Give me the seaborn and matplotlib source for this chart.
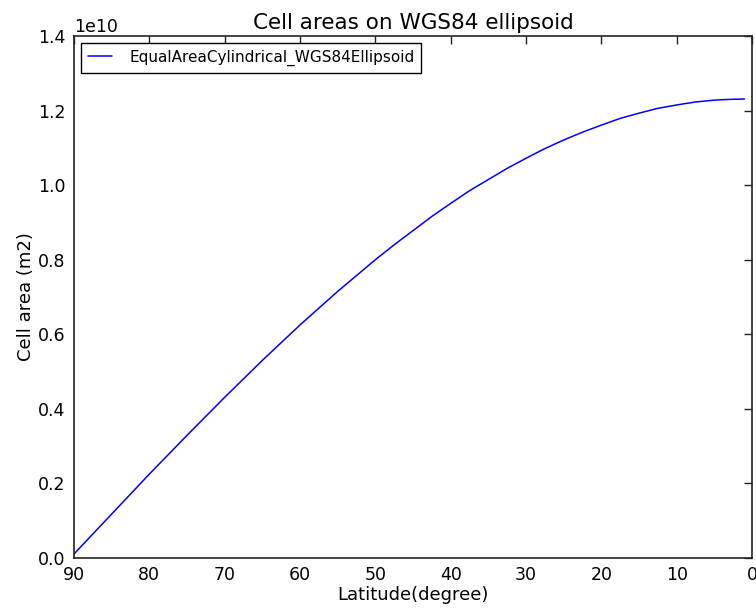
import matplotlib
matplotlib.use("Agg")
import matplotlib.pyplot as plt
import seaborn as sns
import pandas as pd

# Latitude (upper edge of 1-degree cells) and cell areas (in m2)
latitude = [90, 85, 80, 75, 70, 65, 60, 55, 50, 47.5, 45, 42.5, 40, 37.5, 35, 32.5,
            30, 27.5, 25, 22.5, 20, 17.5, 15, 12.5, 10, 7.5, 5, 3, 1]
cell_area = [0.0108e10, 0.118e10, 0.225e10, 0.329e10, 0.431e10, 0.530e10, 0.625e10,
             0.715e10, 0.800e10, 0.840e10, 0.878e10, 0.916e10, 0.951e10, 0.985e10,
             1.015e10, 1.045e10, 1.072e10, 1.098e10, 1.121e10, 1.142e10, 1.161e10,
             1.179e10, 1.193e10, 1.206e10, 1.215e10, 1.223e10, 1.228e10, 1.230e10,
             1.231e10]
series_name = "EqualAreaCylindrical_WGS84Ellipsoid"

df = pd.DataFrame({"lat": latitude, "area": cell_area})

sns.set_style("white", {
    "axes.edgecolor": "#222222",
    "axes.labelcolor": "black",
    "text.color": "black",
    "xtick.color": "black",
    "ytick.color": "black",
    "xtick.direction": "in",
    "ytick.direction": "in",
    "xtick.top": True,
    "ytick.right": True,
})
plt.rcParams["font.family"] = ["DejaVu Sans"]

fig = plt.figure(figsize=(7.56, 6.12), dpi=100)
ax = fig.add_axes([0.0979, 0.0882, 0.8968, 0.8530])

sns.lineplot(data=df, x="lat", y="area", color="blue", linewidth=1.1,
             label=series_name, ax=ax)

ax.set_xlim(90, 0)
ax.set_ylim(0, 1.4e10)
ax.set_xticks([90, 80, 70, 60, 50, 40, 30, 20, 10, 0])
ax.set_yticks([0, 0.2e10, 0.4e10, 0.6e10, 0.8e10, 1.0e10, 1.2e10, 1.4e10])
ax.tick_params(axis="both", which="both", direction="in", length=6, width=1,
               labelsize=12.5, color="#222222", labelcolor="black",
               top=True, right=True, pad=6)
ax.yaxis.get_offset_text().set_fontsize(12.5)
for s in ax.spines.values():
    s.set_linewidth(1.2)
    s.set_color("#222222")

ax.set_title("Cell areas on WGS84 ellipsoid", fontsize=15.5, pad=5, color="black")
ax.set_xlabel("Latitude(degree)", fontsize=13, labelpad=1)
ax.set_ylabel("Cell area (m2)", fontsize=13, labelpad=2)

leg = ax.legend(loc="upper left", fontsize=11, fancybox=False, framealpha=1,
                edgecolor="black", handlelength=1.6, handletextpad=1.1,
                borderpad=0.45, borderaxespad=0.45)
leg.get_frame().set_linewidth(1.0)

fig.savefig("out.png", dpi=100)
